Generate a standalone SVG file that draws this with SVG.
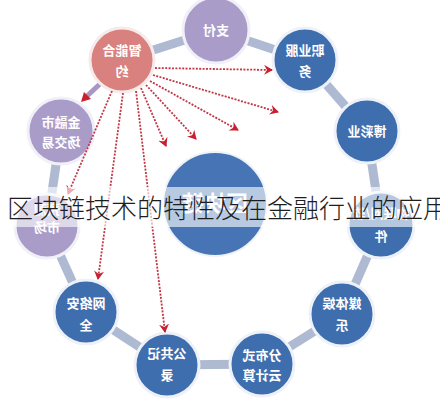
<svg xmlns="http://www.w3.org/2000/svg" width="440" height="400" viewBox="0 0 440 400">
<defs>
<style>
.blue{fill:#3f6eae;stroke:#eef2f8;stroke-width:3}
.purple{fill:#a99cc9;stroke:#f1eff7;stroke-width:3}
.pink{fill:#d8817e;stroke:#f6eaea;stroke-width:3}
.center{fill:#4674b4;stroke:#eef2f8;stroke-width:2}
.lbl{font-family:"Noto Sans CJK SC","Noto Sans",sans-serif;font-size:13px;font-weight:700;fill:#ffffff;text-anchor:middle}
.big{font-size:22px}
.ring{stroke:#adbad2;stroke-width:9;fill:none}
.arr{stroke:#c23847;stroke-width:1.8;stroke-dasharray:2 1.4;fill:none;marker-end:url(#ah)}
.cap{font-family:"Noto Sans CJK SC","Noto Sans",sans-serif;font-size:26px;font-weight:300;fill:#1e1e1e}
</style>
<marker id="ah" markerWidth="10" markerHeight="10" refX="8" refY="5" orient="auto" markerUnits="userSpaceOnUse">
<path d="M0,0 L9,5 L0,10 L3,5 Z" fill="#c8202f"/>
</marker>
</defs>
<rect width="440" height="400" fill="#ffffff"/>
<g id="connectors">
<line class="ring" x1="122" y1="60" x2="216" y2="30"/>
<line class="ring" x1="216" y1="30" x2="305" y2="60"/>
<line class="ring" x1="305" y1="60" x2="367" y2="131"/>
<line class="ring" x1="367" y1="131" x2="381" y2="225"/>
<line class="ring" x1="381" y1="225" x2="342" y2="314"/>
<line class="ring" x1="342" y1="314" x2="262" y2="364"/>
<line class="ring" x1="262" y1="364" x2="167" y2="365"/>
<line class="ring" x1="167" y1="365" x2="86" y2="312"/>
<line class="ring" x1="86" y1="312" x2="47" y2="226"/>
<line class="ring" x1="47" y1="226" x2="61" y2="131"/>
<line x1="102" y1="82" x2="86" y2="97" stroke="#a996c2" stroke-width="5"/>
<path d="M81,102 L84,92 L91,99 Z" fill="#c8202f"/>
</g>
<g id="node-center"><circle class="center" cx="215" cy="204" r="52"/><g transform="matrix(-1 0 0 1 430 0)"><text class="lbl big" x="215" y="211">区块链</text></g></g>
<g id="node-zhifu"><circle class="purple" cx="216" cy="30" r="33"/><g transform="matrix(-1 0 0 1 432 0)"><text class="lbl" x="216" y="35">支付</text></g></g>
<g id="node-zhiye"><circle class="blue" cx="305" cy="60" r="32"/><g transform="matrix(-1 0 0 1 610 0)"><text class="lbl" x="305" y="55">职业服</text><text class="lbl" x="305" y="76">务</text></g></g>
<g id="node-bocai"><circle class="blue" cx="367" cy="131" r="32"/><g transform="matrix(-1 0 0 1 734 0)"><text class="lbl" x="367" y="136">博彩业</text></g></g>
<g id="node-wulian"><circle class="blue" cx="381" cy="225" r="33"/><g transform="matrix(-1 0 0 1 762 0)"><text class="lbl" x="381" y="218">物联网/软</text><text class="lbl" x="381" y="241">件</text></g></g>
<g id="node-meiti"><circle class="blue" cx="342" cy="314" r="32"/><g transform="matrix(-1 0 0 1 684 0)"><text class="lbl" x="342" y="308">媒体娱</text><text class="lbl" x="342" y="330">乐</text></g></g>
<g id="node-fenbu"><circle class="blue" cx="262" cy="364" r="32"/><g transform="matrix(-1 0 0 1 524 0)"><text class="lbl" x="262" y="360">分布式</text><text class="lbl" x="262" y="380">云计算</text></g></g>
<g id="node-gonggong"><circle class="blue" cx="167" cy="365" r="32"/><g transform="matrix(-1 0 0 1 334 0)"><text class="lbl" x="167" y="358">公共记</text><text class="lbl" x="167" y="380">录</text></g></g>
<g id="node-wangluo"><circle class="blue" cx="86" cy="312" r="32"/><g transform="matrix(-1 0 0 1 172 0)"><text class="lbl" x="86" y="308">网络安</text><text class="lbl" x="86" y="330">全</text></g></g>
<g id="node-yuce"><circle class="purple" cx="47" cy="226" r="32"/><g transform="matrix(-1 0 0 1 94 0)"><text class="lbl" x="47" y="214">预测</text><text class="lbl" x="47" y="232">市场</text></g></g>
<g id="node-jinrong"><circle class="purple" cx="61" cy="131" r="33"/><g transform="matrix(-1 0 0 1 122 0)"><text class="lbl" x="61" y="127">金融市</text><text class="lbl" x="61" y="147">场交易</text></g></g>
<g id="node-zhineng"><circle class="pink" cx="122" cy="60" r="32"/><g transform="matrix(-1 0 0 1 244 0)"><text class="lbl" x="122" y="55">智能合</text><text class="lbl" x="122" y="76">约</text></g></g>
<g id="arrows">
<line class="arr" x1="155" y1="68" x2="272" y2="70"/>
<line class="arr" x1="153" y1="75" x2="278" y2="112"/>
<line class="arr" x1="150" y1="81" x2="238" y2="130"/>
<line class="arr" x1="146" y1="85" x2="196" y2="139"/>
<line class="arr" x1="141" y1="88" x2="166" y2="146"/>
<line class="arr" x1="112" y1="91" x2="68" y2="194"/>
<line class="arr" x1="123" y1="93" x2="98" y2="279"/>
<line class="arr" x1="136" y1="91" x2="165" y2="332"/>
</g>
<g id="caption">
<rect x="0" y="187" width="440" height="40" fill="#ffffff" fill-opacity="0.62"/>
<text class="cap" x="7" y="218">区块链技术的特性及在金融行业的应用</text>
</g>
</svg>
